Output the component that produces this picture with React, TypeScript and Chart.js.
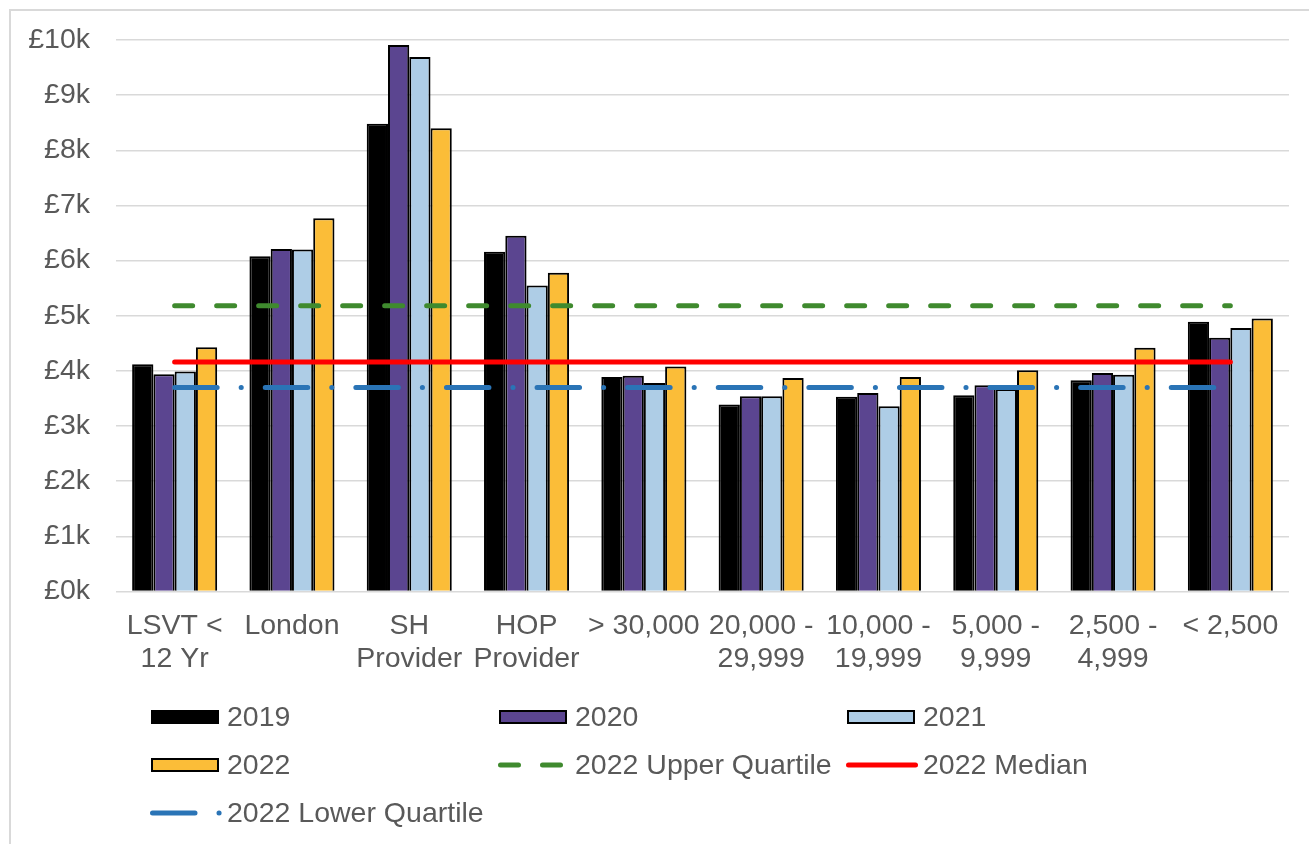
import React, { useEffect, useRef } from "react";
import { Chart, registerables } from "chart.js";

Chart.register(...registerables);

// Categories (multi-line labels) and yearly values in £
const categories: (string | string[])[] = [
  ["LSVT <", "12 Yr"],
  "London",
  ["SH", "Provider"],
  ["HOP", "Provider"],
  "> 30,000",
  ["20,000 -", "29,999"],
  ["10,000 -", "19,999"],
  ["5,000 -", "9,999"],
  ["2,500 -", "4,999"],
  "< 2,500",
];

const values2019 = [4120, 6080, 8480, 6160, 3890, 3390, 3530, 3560, 3830, 4890];
const values2020 = [3940, 6210, 9910, 6450, 3910, 3540, 3600, 3740, 3960, 4600];
const values2021 = [3990, 6200, 9690, 5550, 3780, 3540, 3360, 3670, 3930, 4780];
const values2022 = [4430, 6770, 8400, 5780, 4080, 3870, 3890, 4010, 4420, 4950];

const upperQuartile2022 = [5180, 5180, 5180, 5180, 5180, 5180, 5180, 5180, 5180, 5180];
const median2022 = [4160, 4160, 4160, 4160, 4160, 4160, 4160, 4160, 4160, 4160];
const lowerQuartile2022 = [3700, 3700, 3700, 3700, 3700, 3700, 3700, 3700, 3700, 3700];

const yTickLabels = ["£0k", "£1k", "£2k", "£3k", "£4k", "£5k", "£6k", "£7k", "£8k", "£9k", "£10k"];

const FONT = "Liberation Sans, Arial, sans-serif";
const TEXT = "#595959";
const GRID = "#d9d9d9";

const C2019 = "#000000";
const C2020 = "#5b4590";
const C2021 = "#aecde6";
const C2022 = "#fbbd38";
const CUPPER = "#3f8a2e";
const CMEDIAN = "#ff0000";
const CLOWER = "#2a74b6";

const DASH_UPPER = [18, 24];
const DASH_LOWER = [42.5, 24, 0.1, 24];

type LegendItem = {
  text: string;
  kind: "box" | "line";
  color: string;
  dash?: number[];
  len?: number;
};

// Legend laid out in a 3-column grid
const legendItems: LegendItem[] = [
  { text: "2019", kind: "box", color: C2019 },
  { text: "2020", kind: "box", color: C2020 },
  { text: "2021", kind: "box", color: C2021 },
  { text: "2022", kind: "box", color: C2022 },
  { text: "2022 Upper Quartile", kind: "line", color: CUPPER, dash: DASH_UPPER, len: 64 },
  { text: "2022 Median", kind: "line", color: CMEDIAN, dash: [], len: 67 },
  { text: "2022 Lower Quartile", kind: "line", color: CLOWER, dash: DASH_LOWER, len: 68 },
];

const gridLegend = {
  id: "gridLegend",
  beforeDraw(chart: any) {
    const ctx = chart.ctx as CanvasRenderingContext2D;
    ctx.save();
    ctx.fillStyle = "#ffffff";
    ctx.fillRect(0, 0, chart.width, chart.height);
    // frame (top and left edges)
    ctx.strokeStyle = GRID;
    ctx.lineWidth = 2;
    ctx.beginPath();
    ctx.moveTo(10, chart.height);
    ctx.lineTo(10, 10);
    ctx.lineTo(chart.width, 10);
    ctx.stroke();
    ctx.restore();
  },
  afterDraw(chart: any) {
    const ctx = chart.ctx as CanvasRenderingContext2D;
    const x0 = 151;
    const colStep = 348;
    const y0 = 717;
    const rowStep = 48;
    const swW = 68;
    ctx.save();
    ctx.font = `28.5px ${FONT}`;
    ctx.textBaseline = "middle";
    ctx.textAlign = "left";
    legendItems.forEach((item, i) => {
      const col = i % 3;
      const row = Math.floor(i / 3);
      const x = x0 + col * colStep;
      const y = y0 + row * rowStep;
      if (item.kind === "box") {
        ctx.fillStyle = item.color;
        ctx.fillRect(x, y - 7, swW, 14);
        ctx.strokeStyle = "#000000";
        ctx.lineWidth = 2;
        ctx.strokeRect(x + 1, y - 6, swW - 2, 12);
      } else {
        ctx.strokeStyle = item.color;
        ctx.lineWidth = 5;
        ctx.lineCap = "round";
        ctx.setLineDash(item.dash || []);
        ctx.beginPath();
        ctx.moveTo(x + 1.5, y);
        ctx.lineTo(x + 1.5 + (item.len || 64), y);
        ctx.stroke();
        ctx.setLineDash([]);
      }
      ctx.fillStyle = TEXT;
      ctx.fillText(item.text, x + 76, y + 1);
    });
    ctx.restore();
  },
};

export default function App() {
  const canvasRef = useRef<HTMLCanvasElement | null>(null);

  useEffect(() => {
    if (!canvasRef.current) return;
    const barBase = {
      type: "bar" as const,
      borderColor: "#000000",
      borderWidth: 2,
      categoryPercentage: 0.725,
      barPercentage: 1,
      order: 1,
    };
    const lineBase = {
      type: "line" as const,
      borderWidth: 5,
      pointRadius: 0,
      borderCapStyle: "round" as const,
      fill: false,
      order: 0,
    };
    const chart = new Chart(canvasRef.current, {
      data: {
        labels: categories,
        datasets: [
          { ...barBase, label: "2019", data: values2019, backgroundColor: C2019 },
          { ...barBase, label: "2020", data: values2020, backgroundColor: C2020 },
          { ...barBase, label: "2021", data: values2021, backgroundColor: C2021 },
          { ...barBase, label: "2022", data: values2022, backgroundColor: C2022 },
          {
            ...lineBase,
            label: "2022 Upper Quartile",
            data: upperQuartile2022,
            borderColor: CUPPER,
            borderDash: DASH_UPPER,
          },
          {
            ...lineBase,
            label: "2022 Median",
            data: median2022,
            borderColor: CMEDIAN,
          },
          {
            ...lineBase,
            label: "2022 Lower Quartile",
            data: lowerQuartile2022,
            borderColor: CLOWER,
            borderDash: DASH_LOWER,
          },
        ],
      } as any,
      options: {
        responsive: false,
        animation: false,
        layout: { padding: { left: 10, right: 20, top: 40, bottom: 152.5 } },
        plugins: {
          legend: { display: false },
          tooltip: { enabled: false },
        },
        scales: {
          x: {
            grid: { display: false, drawTicks: false },
            border: { display: false },
            ticks: {
              color: TEXT,
              font: { family: FONT, size: 28.5, lineHeight: 1.16 },
              padding: 18,
              maxRotation: 0,
              autoSkip: false,
            },
            afterFit(scale: any) {
              scale.height = 100;
            },
          },
          y: {
            min: 0,
            max: 10000,
            grid: { color: GRID, lineWidth: 1.5, drawTicks: false },
            border: { display: false },
            ticks: {
              stepSize: 1000,
              color: TEXT,
              font: { family: FONT, size: 28.5, lineHeight: 0.4 },
              padding: 26,
              callback: (_v: any, i: number) => yTickLabels[i],
            },
            afterFit(scale: any) {
              scale.width = 106;
            },
          },
        },
      },
      plugins: [gridLegend],
    });
    return () => chart.destroy();
  }, []);

  return (
    <div style={{ position: "absolute", left: 0, top: 0, width: 1309, height: 844, background: "#fff" }}>
      <canvas ref={canvasRef} width={1309} height={844} style={{ display: "block" }} />
    </div>
  );
}
